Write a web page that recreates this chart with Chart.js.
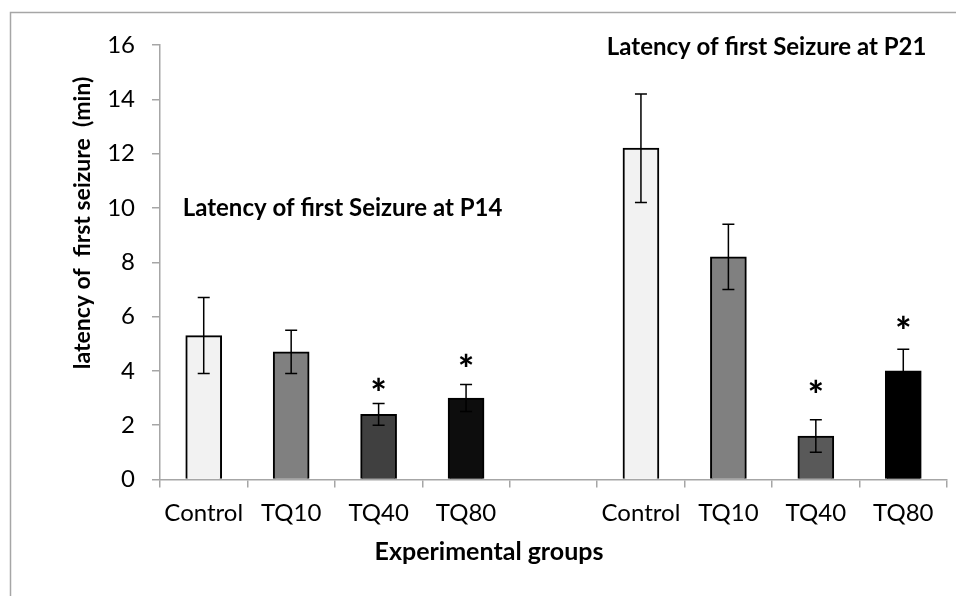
<!DOCTYPE html>
<html>
<head>
<meta charset="utf-8">
<script src="https://cdn.jsdelivr.net/npm/chart.js@4"></script>
<style>
  html, body { margin: 0; padding: 0; background: #ffffff; }
  #wrap { width: 956px; height: 596px; position: relative; }
</style>
</head>
<body>
<div id="wrap"><canvas id="c" width="956" height="596"></canvas></div>
<script>
// ---- data ----
const categories = ["Control", "TQ10", "TQ40", "TQ80", "", "Control", "TQ10", "TQ40", "TQ80"];
const means      = [5.3, 4.7, 2.4, 3.0, null, 12.2, 8.2, 1.6, 4.0];
const errLow     = [3.9, 3.9, 2.0, 2.5, null, 10.2, 7.0, 1.0, 3.2];
const errHigh    = [6.7, 5.5, 2.8, 3.5, null, 14.2, 9.4, 2.2, 4.8];
const starAt     = [null, null, 3.4, 4.3, null, null, null, 3.35, 5.7];
const barColors  = ["#f2f2f2", "#808080", "#404040", "#0d0d0d", "#ffffff", "#f2f2f2", "#808080", "#595959", "#000000"];
const yTicks     = [0, 2, 4, 6, 8, 10, 12, 14, 16];
const yTitle     = "latency of  first seizure  (min)";
const xTitle     = "Experimental groups";
const notes      = [
  { text: "Latency of first Seizure at P14", cat: -0.24, value: 10.0 },
  { text: "Latency of first Seizure at P21", cat: 4.61, value: 15.9 }
];

const FONT = "Lato, 'Open Sans', sans-serif";

const decor = {
  id: 'decor',
  beforeDraw(chart) {
    const ctx = chart.ctx;
    ctx.save();
    ctx.strokeStyle = '#a6a6a6';
    ctx.lineWidth = 1.5;
    ctx.beginPath();
    ctx.moveTo(10.5, 596);
    ctx.lineTo(10.5, 12.5);
    ctx.lineTo(956, 12.5);
    ctx.stroke();
    ctx.restore();
  },
  afterDatasetsDraw(chart) {
    const ctx = chart.ctx;
    const xs = chart.scales.x, ys = chart.scales.y;
    ctx.save();
    // error bars
    ctx.strokeStyle = '#000';
    ctx.lineWidth = 1.5;
    for (let i = 0; i < categories.length; i++) {
      if (errLow[i] == null) continue;
      const x = xs.getPixelForValue(i);
      const yl = ys.getPixelForValue(errLow[i]);
      const yh = ys.getPixelForValue(errHigh[i]);
      ctx.beginPath();
      ctx.moveTo(x, yl); ctx.lineTo(x, yh);
      ctx.moveTo(x - 6, yl); ctx.lineTo(x + 6, yl);
      ctx.moveTo(x - 6, yh); ctx.lineTo(x + 6, yh);
      ctx.stroke();
    }
    // significance stars
    ctx.fillStyle = '#000';
    ctx.font = "900 38px " + FONT;
    ctx.textAlign = 'center';
    ctx.textBaseline = 'middle';
    for (let i = 0; i < categories.length; i++) {
      if (starAt[i] == null) continue;
      ctx.fillText('*', xs.getPixelForValue(i), ys.getPixelForValue(starAt[i]) + 8);
    }
    // notes
    ctx.font = "bold 24px " + FONT;
    ctx.textAlign = 'left';
    notes.forEach(n => {
      ctx.fillText(n.text, xs.getPixelForValue(n.cat), ys.getPixelForValue(n.value));
    });
    // axis titles
    ctx.font = "bold 25px " + FONT;
    ctx.textAlign = 'center';
    ctx.fillText(xTitle, 489, 552);
    ctx.font = "bold 23px " + FONT;
    ctx.translate(83, 223);
    ctx.rotate(-Math.PI / 2);
    ctx.fillText(yTitle, 0, 0);
    ctx.restore();
  }
};

new Chart(document.getElementById('c'), {
  type: 'bar',
  data: {
    labels: categories,
    datasets: [{
      data: means,
      backgroundColor: barColors,
      borderColor: '#000000',
      borderWidth: 2,
      barThickness: 36
    }]
  },
  options: {
    responsive: false,
    animation: false,
    events: [],
    layout: { padding: { left: 0, right: 9, top: 45, bottom: 0 } },
    plugins: { legend: { display: false }, tooltip: { enabled: false } },
    scales: {
      x: {
        grid: { offset: true, drawOnChartArea: false, drawTicks: true, tickLength: 8, color: '#a6a6a6', lineWidth: 1.5 },
        border: { color: '#a6a6a6', width: 1.5 },
        ticks: { color: '#000', font: { family: FONT, size: 24 }, padding: 11, maxRotation: 0, autoSkip: false },
        afterFit(s) { s.height = 116.5; }
      },
      y: {
        min: 0, max: 16,
        afterBuildTicks(s) { s.ticks = yTicks.map(v => ({ value: v })); },
        grid: { drawOnChartArea: false, drawTicks: true, tickLength: 8, color: '#a6a6a6', lineWidth: 1.5 },
        border: { color: '#a6a6a6', width: 1.5 },
        ticks: { color: '#000', font: { family: FONT, size: 24 }, padding: 17 },
        afterFit(s) { s.width = 160; }
      }
    }
  },
  plugins: [decor]
});
</script>
</body>
</html>
